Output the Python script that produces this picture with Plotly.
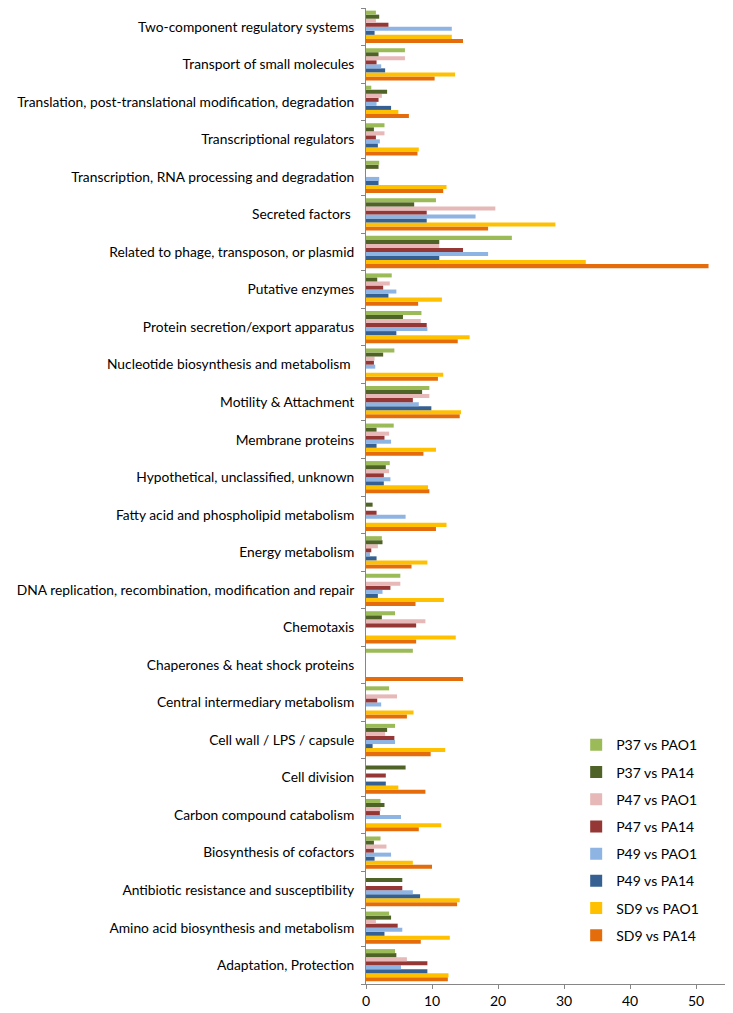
import plotly.graph_objects as go

# categories, bottom to top (as plotted)
categories = [
    "Adaptation, Protection",
    "Amino acid biosynthesis and metabolism",
    "Antibiotic resistance and susceptibility",
    "Biosynthesis of cofactors",
    "Carbon compound catabolism",
    "Cell division",
    "Cell wall / LPS / capsule",
    "Central intermediary metabolism",
    "Chaperones & heat shock proteins",
    "Chemotaxis",
    "DNA replication, recombination, modification and repair",
    "Energy metabolism",
    "Fatty acid and phospholipid metabolism",
    "Hypothetical, unclassified, unknown",
    "Membrane proteins",
    "Motility & Attachment",
    "Nucleotide biosynthesis and metabolism ",
    "Protein secretion/export apparatus",
    "Putative enzymes",
    "Related to phage, transposon, or plasmid",
    "Secreted factors ",
    "Transcription, RNA processing and degradation",
    "Transcriptional regulators",
    "Translation, post-translational modification, degradation",
    "Transport of small molecules",
    "Two-component regulatory systems",
]

p37_pao1 = [4.4, 3.5, 0, 2.2, 2.2, 0, 4.4, 3.5, 7.1, 4.4, 5.2, 2.4, 0, 3.6, 4.2, 9.6, 4.3, 8.4, 3.9, 22.1, 10.6, 2.0, 2.8, 0.8, 5.9, 1.5]
p37_pa14 = [4.6, 3.8, 5.5, 1.2, 2.8, 6.0, 3.2, 0, 0, 2.4, 0, 2.5, 1.0, 3.0, 1.6, 8.5, 2.6, 5.6, 1.7, 11.1, 7.3, 1.9, 1.2, 3.2, 1.9, 2.0]
p47_pao1 = [6.2, 1.5, 0, 3.1, 2.2, 0, 2.9, 4.7, 0, 9.0, 5.2, 1.8, 0, 3.5, 3.5, 9.6, 1.3, 8.3, 3.6, 11.1, 19.6, 0, 2.8, 2.4, 5.9, 1.5]
p47_pa14 = [9.3, 4.8, 5.5, 1.2, 2.1, 3.0, 4.3, 1.7, 0, 7.6, 3.7, 0.8, 1.6, 2.7, 2.8, 7.1, 1.2, 9.2, 2.6, 14.7, 9.2, 0, 1.5, 1.9, 1.6, 3.4]
p49_pao1 = [5.3, 5.5, 7.1, 3.8, 5.3, 0, 4.4, 2.3, 0, 0, 2.5, 0.6, 6.0, 3.7, 3.8, 8.0, 1.4, 9.3, 4.6, 18.5, 16.6, 2.0, 2.1, 1.6, 2.3, 13.0]
p49_pa14 = [9.3, 2.8, 8.2, 1.3, 0, 3.0, 1.0, 0, 0, 0, 1.8, 1.6, 0, 2.7, 1.6, 9.9, 0, 4.6, 3.4, 11.1, 9.2, 1.9, 1.8, 3.8, 2.9, 1.3]
sd9_pao1 = [12.5, 12.7, 14.2, 7.1, 11.4, 4.9, 12.0, 7.2, 0, 13.6, 11.8, 9.3, 12.2, 9.4, 10.6, 14.4, 11.7, 15.7, 11.5, 33.3, 28.7, 12.2, 8.0, 4.9, 13.5, 13.0]
sd9_pa14 = [12.4, 8.3, 13.8, 10.0, 8.0, 9.0, 9.8, 6.2, 14.7, 7.6, 7.5, 6.9, 10.6, 9.6, 8.7, 14.2, 10.9, 13.9, 7.9, 51.9, 18.5, 11.7, 7.8, 6.5, 10.4, 14.7]

series = [
    ("P37 vs PAO1", p37_pao1, "#9BBB59"),
    ("P37 vs PA14", p37_pa14, "#4F6228"),
    ("P47 vs PAO1", p47_pao1, "#E6B9B8"),
    ("P47 vs PA14", p47_pa14, "#953735"),
    ("P49 vs PAO1", p49_pao1, "#8EB4E3"),
    ("P49 vs PA14", p49_pa14, "#376092"),
    ("SD9 vs PAO1", sd9_pao1, "#FFC000"),
    ("SD9 vs PA14", sd9_pa14, "#E46C0A"),
]

fig = go.Figure()
# add in reverse so the first series sits on top of each group
for rank, (name, vals, col) in reversed(list(enumerate(series))):
    fig.add_trace(go.Bar(
        y=categories, x=vals, name=name, orientation="h",
        marker=dict(color=col, line=dict(width=0)),
        legendgroup=name, legendrank=rank + 1,
    ))

# page body has an 8px margin, so the figure is a bit smaller than the window
fig.update_layout(
    width=725, height=1005,
    margin=dict(l=358, r=4, t=0, b=29),
    barmode="group", bargap=0.14, bargroupgap=0,
    plot_bgcolor="white", paper_bgcolor="white",
    font=dict(family="Lato, Open Sans, sans-serif", size=13.8, color="black"),
    xaxis=dict(
        range=[0, 55], tickvals=[0, 10, 20, 30, 40, 50],
        showgrid=False, zeroline=False, automargin=False,
        showline=True, linecolor="#868686", linewidth=1,
        ticks="outside", ticklen=4, tickcolor="#868686",
        tickfont=dict(size=14),
    ),
    yaxis=dict(
        type="category", categoryorder="array", categoryarray=categories,
        showgrid=False, showline=True, linecolor="#868686", linewidth=1,
        ticks="outside", ticklen=4, tickcolor="#868686", tickson="boundaries",
        ticklabelstandoff=8,
        range=[-0.5, len(categories) - 0.5], automargin=False,
    ),
    legend=dict(
        traceorder="grouped", x=0.579, y=0.261, xanchor="left", yanchor="top",
        bgcolor="rgba(0,0,0,0)", tracegroupgap=6, itemwidth=30,
        font=dict(size=14),
    ),
)

fig.write_html("out.html")
